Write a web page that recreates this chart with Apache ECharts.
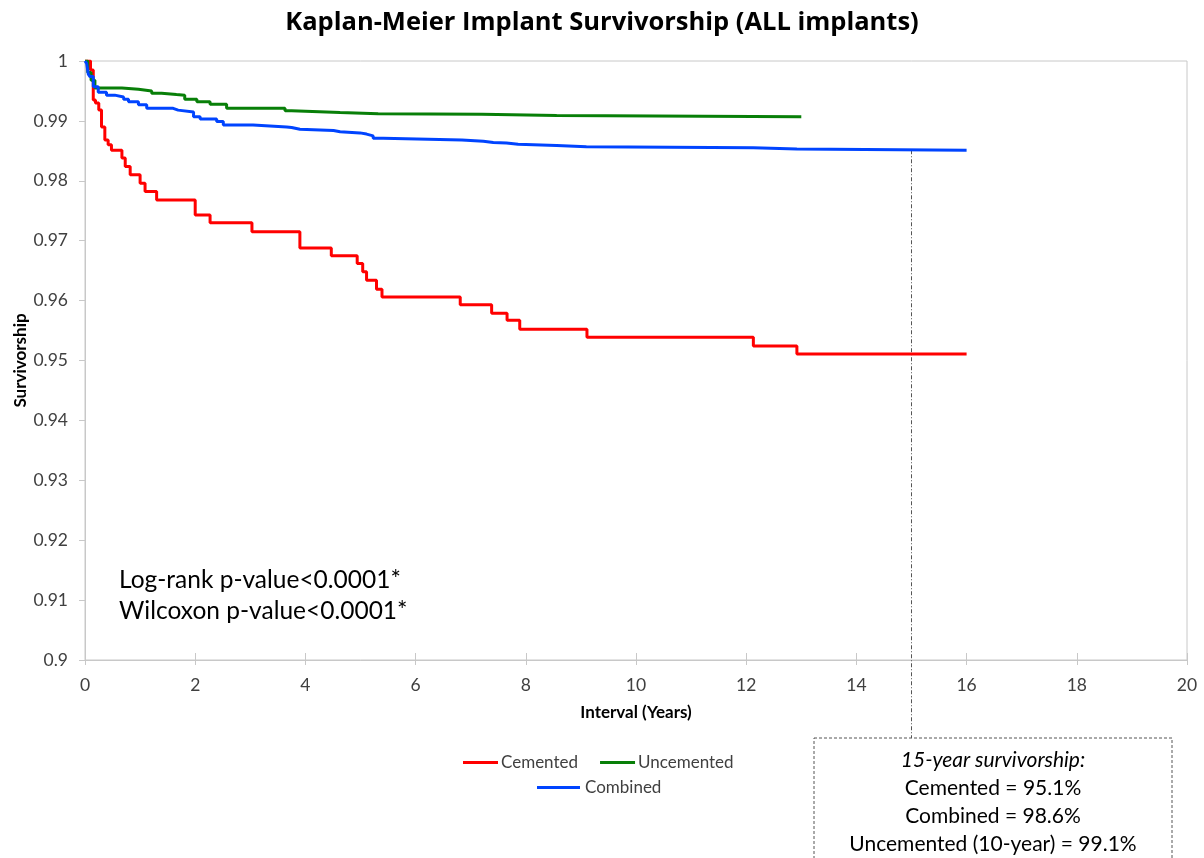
<!DOCTYPE html>
<html>
<head>
<meta charset="utf-8">
<script src="https://cdn.jsdelivr.net/npm/echarts@6/dist/echarts.min.js"></script>
<style>
html, body { margin: 0; padding: 0; background: #fff; }
#main { width: 1204px; height: 858px; }
</style>
</head>
<body>
<div id="main"></div>
<script>
// Kaplan-Meier step points: [years, survivorship after the drop]
var cementedData = [
    [0, 1], [0.1, 0.9985], [0.15, 0.9935], [0.19, 0.993], [0.25, 0.9918], [0.3, 0.989],
    [0.36, 0.9868], [0.42, 0.986], [0.48, 0.9851], [0.67, 0.9838], [0.73, 0.9824],
    [0.82, 0.981], [1.0, 0.9796], [1.09, 0.9782], [1.3, 0.9768], [2.0, 0.9743],
    [2.27, 0.973], [3.03, 0.9715], [3.9, 0.9688], [4.47, 0.9675], [4.94, 0.9662],
    [5.04, 0.9648], [5.11, 0.9634], [5.29, 0.9619], [5.39, 0.9606], [6.81, 0.9593],
    [7.38, 0.9579], [7.66, 0.9567], [7.89, 0.9552], [9.11, 0.9539], [12.13, 0.9524],
    [12.92, 0.9511], [16.0, 0.9511]
];
var uncementedData = [
    [0, 1], [0.05, 0.9981], [0.11, 0.9968], [0.18, 0.9955], [0.67, 0.9953],
    [0.97, 0.995], [1.21, 0.9946], [1.39, 0.9944], [1.66, 0.9943], [1.81, 0.9936],
    [2.03, 0.9932], [2.27, 0.9928], [2.57, 0.9921], [3.63, 0.9917], [3.75, 0.9914],
    [4.63, 0.9912], [5.32, 0.9911], [7.2, 0.9909], [8.56, 0.9907], [13.0, 0.9907]
];
var combinedData = [
    [0, 1], [0.03, 0.9996], [0.06, 0.9978], [0.09, 0.9974], [0.15, 0.9957],
    [0.24, 0.9948], [0.39, 0.9943], [0.54, 0.994], [0.7, 0.9936], [0.79, 0.9932],
    [0.97, 0.9927], [1.12, 0.9921], [1.6, 0.9918], [1.69, 0.9915], [1.97, 0.9907],
    [2.09, 0.9903], [2.39, 0.9899], [2.51, 0.9893], [3.05, 0.989], [3.66, 0.9889],
    [3.75, 0.9886], [3.9, 0.9884], [4.51, 0.9882], [4.63, 0.988], [4.99, 0.9878],
    [5.11, 0.9875], [5.23, 0.9871], [5.41, 0.9868], [6.84, 0.9866], [7.23, 0.9864],
    [7.41, 0.9863], [7.65, 0.9861], [7.86, 0.9859], [8.56, 0.9857], [9.1, 0.9855],
    [12.13, 0.9853], [12.92, 0.9851], [16.0, 0.9851]
];
var pValueLines = ['Log-rank p-value<0.0001*', 'Wilcoxon p-value<0.0001*'];
var boxLines = ['15-year survivorship:', 'Cemented = 95.1%', 'Combined = 98.6%', 'Uncemented (10-year) = 99.1%'];
var markYear = 15;

var font = 'Lato, "Open Sans", sans-serif';
var chart = echarts.init(document.getElementById('main'));

function stepSeries(name, color, data) {
    return {
        name: name,
        type: 'line',
        step: 'end',
        showSymbol: false,
        silent: true,
        lineStyle: { color: color, width: 3 },
        itemStyle: { color: color },
        data: data
    };
}

var option = {
    animation: false,
    textStyle: { fontFamily: font },
    title: {
        text: 'Kaplan-Meier Implant Survivorship (ALL implants)',
        left: 'center',
        top: 5,
        textStyle: { fontFamily: '"Open Sans", sans-serif', fontSize: 25.5, fontWeight: 'bold', color: '#000' }
    },
    grid: {
        left: 85, right: 17, top: 61, bottom: 198,
        outerBoundsMode: 'none', containLabel: false,
        show: true, borderColor: '#c8c8c8', borderWidth: 1
    },
    legend: [{
        data: ['Cemented', 'Uncemented'],
        left: 458, top: 749,
        icon: 'rect', itemWidth: 35, itemHeight: 3, itemGap: 22, itemStyle: { borderWidth: 0 },
        textStyle: { fontFamily: font, fontSize: 17, color: '#404040', padding: [0, 0, 0, -2] }
    }, {
        data: ['Combined'],
        left: 532, top: 774,
        icon: 'rect', itemWidth: 43, itemHeight: 3, itemStyle: { borderWidth: 0 },
        textStyle: { fontFamily: font, fontSize: 17, color: '#404040' }
    }],
    xAxis: [{
        type: 'value', min: 0, max: 20, interval: 2,
        name: 'Interval (Years)', nameLocation: 'middle', nameGap: 44, nameMoveOverlap: false,
        nameTextStyle: { fontFamily: font, fontSize: 17, fontWeight: 'bold', color: '#000' },
        axisLine: { lineStyle: { color: '#c8c8c8' } },
        axisTick: { show: true, length: 5, lineStyle: { color: '#c8c8c8' } },
        axisLabel: { fontSize: 17.5, color: '#404040', margin: 16 },
        splitLine: { show: false }
    }, {
        type: 'value', min: 0, max: 20, interval: 2, position: 'bottom',
        axisLine: { show: false },
        axisTick: { show: true, inside: true, length: 7, lineStyle: { color: '#c8c8c8' } },
        axisLabel: { show: false },
        splitLine: { show: false }
    }],
    yAxis: {
        type: 'value', min: 0.9, max: 1, interval: 0.01,
        name: 'Survivorship', nameLocation: 'middle', nameGap: 56, nameRotate: 90, nameMoveOverlap: false,
        nameTextStyle: { fontFamily: font, fontSize: 17, fontWeight: 'bold', color: '#000' },
        axisLine: { show: true, lineStyle: { color: '#c8c8c8' } },
        axisTick: { show: true, length: 6, lineStyle: { color: '#c8c8c8' } },
        axisLabel: {
            fontSize: 17.5, color: '#404040', margin: 17,
            formatter: function (v) { return String(+v.toFixed(2)); }
        },
        splitLine: { show: false }
    },
    series: [
        stepSeries('Cemented', '#ff0000', cementedData),
        stepSeries('Uncemented', '#087f08', uncementedData),
        stepSeries('Combined', '#0044ff', combinedData)
    ]
};
chart.setOption(option);

// annotations placed through the chart's own scales
var combinedAt15 = combinedData[combinedData.length - 1][1];
var topPt = chart.convertToPixel({ xAxisIndex: 0, yAxisIndex: 0 }, [markYear, combinedAt15]);
var boxLeft = 814, boxTop = 738, boxW = 358;
var graphics = [{
    type: 'line',
    shape: { x1: topPt[0], y1: topPt[1], x2: topPt[0], y2: boxTop },
    style: { stroke: '#555', lineWidth: 1, lineDash: [4, 2, 1, 2] },
    z: 1
}, {
    type: 'rect',
    shape: { x: boxLeft, y: boxTop, width: boxW, height: 140 },
    style: { fill: '#fff', stroke: '#555', lineWidth: 1, lineDash: [3, 2] },
    z: 2
}];
boxLines.forEach(function (t, i) {
    graphics.push({
        type: 'text',
        x: boxLeft + boxW / 2, y: boxTop + 22 + i * 28,
        style: {
            text: t, fill: '#000', fontFamily: font, fontSize: 21,
            fontStyle: i === 0 ? 'italic' : 'normal',
            align: 'center', verticalAlign: 'middle'
        },
        z: 3
    });
});
pValueLines.forEach(function (t, i) {
    graphics.push({
        type: 'text',
        x: 119, y: 580 + i * 31,
        style: { text: t, fill: '#000', fontFamily: font, fontSize: 24.5, verticalAlign: 'middle' },
        z: 3
    });
});
chart.setOption({ graphic: graphics });

window.addEventListener('resize', function () {
    chart.resize();
});
</script>
</body>
</html>
